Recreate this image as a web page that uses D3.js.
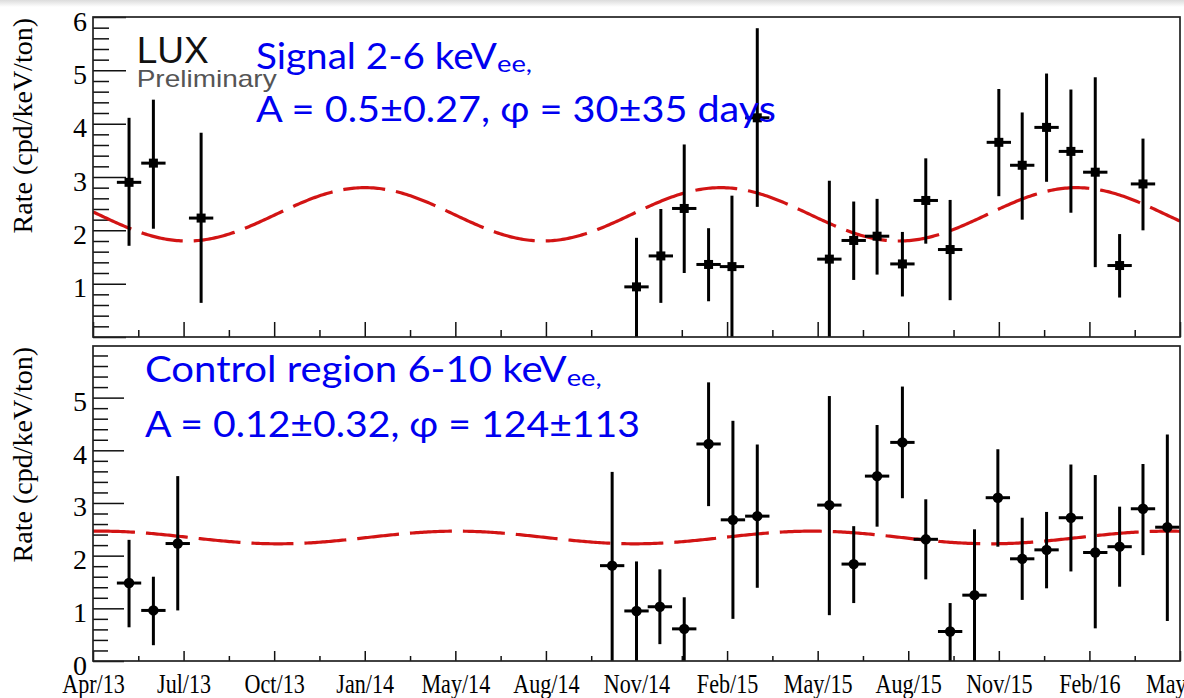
<!DOCTYPE html>
<html>
<head>
<meta charset="utf-8">
<script src="https://cdn.jsdelivr.net/npm/d3@7"></script>
<style>
  html, body { margin: 0; padding: 0; background: #fff; }
  svg { display: block; }
</style>
</head>
<body>
<svg id="chart" width="1184" height="698"></svg>
<script>
// ---- axis definition -------------------------------------------------------
const tickLabels = ["Apr/13", "Jul/13", "Oct/13", "Jan/14", "May/14", "Aug/14", "Nov/14",
                    "Feb/15", "May/15", "Aug/15", "Nov/15", "Feb/16", "May/16"];
const tickStepDays = 93;      // spacing of the labelled time ticks
const axisStartDoy = 116;     // day of year of the first tick (26 Apr 2013)
const yearDays = 365.25;
const binHalfWidthDays = 12.5;

// ---- signal region, 2-6 keVee (days since axis start) -----------------------
const signalDays  = [37, 62, 111, 558, 583, 607, 632, 656, 682, 756, 781, 805, 831, 855, 880, 930, 954, 979, 1004, 1029, 1054, 1078];
const signalRate  = [2.90, 3.26, 2.23, 0.94, 1.52, 2.41, 1.36, 1.32, 4.11, 1.46, 1.81, 1.89, 1.37, 2.56, 1.64, 3.65, 3.22, 3.93, 3.48, 3.09, 1.34, 2.87];
const signalUpper = [4.11, 4.45, 3.83, 1.86, 2.40, 3.61, 2.04, 2.65, 5.79, 2.93, 2.54, 2.59, 1.97, 3.35, 2.57, 4.65, 4.21, 4.94, 4.64, 4.87, 1.93, 3.72];
const signalLower = [1.71, 2.03, 0.64, 0.00, 0.64, 1.20, 0.67, -0.01, 2.44, -0.01, 1.07, 1.17, 0.76, 1.75, 0.69, 2.64, 2.20, 2.91, 2.33, 1.31, 0.74, 2.00];
const signalMean = 2.30, signalAmp = 0.50, signalPhase = 30;

// ---- control region, 6-10 keVee --------------------------------------------
const controlDays  = [37, 62, 87, 533, 558, 582, 607, 632, 657, 682, 756, 781, 805, 831, 855, 880, 905, 929, 954, 979, 1004, 1029, 1054, 1078, 1103];
const controlRate  = [1.48, 0.96, 2.23, 1.81, 0.95, 1.03, 0.61, 4.12, 2.68, 2.75, 2.96, 1.84, 3.51, 4.15, 2.31, 0.56, 1.25, 3.10, 1.94, 2.11, 2.72, 2.06, 2.17, 2.89, 2.54];
const controlUpper = [2.30, 1.60, 3.51, 3.59, 1.89, 1.74, 1.21, 5.29, 4.56, 4.11, 5.03, 2.56, 4.48, 5.21, 3.07, 1.10, 2.50, 4.02, 2.72, 2.83, 3.73, 3.53, 2.93, 3.74, 4.30];
const controlLower = [0.64, 0.30, 0.96, 0.00, 0.00, 0.32, 0.00, 2.94, 0.80, 1.39, 0.87, 1.10, 2.55, 3.09, 1.55, 0.00, 0.00, 2.17, 1.16, 1.38, 1.70, 0.62, 1.41, 2.01, 0.76];
const controlMean = 2.345, controlAmp = 0.12, controlPhase = 124;

// ---- layout ----------------------------------------------------------------
const W = 1184, H = 698;
const left = 93, right = 1180;
const svg = d3.select("#chart");
const defs = svg.append("defs");

// faint grey band along the top edge
const grad = defs.append("linearGradient").attr("id", "topband")
  .attr("x1", 0).attr("y1", 0).attr("x2", 0).attr("y2", 1);
grad.append("stop").attr("offset", "0%").attr("stop-color", "#dcdcdc");
grad.append("stop").attr("offset", "100%").attr("stop-color", "#ffffff");
svg.append("rect").attr("x", 0).attr("y", 0).attr("width", W).attr("height", 7).attr("fill", "url(#topband)");

const x = d3.scaleLinear().domain([0, tickStepDays * (tickLabels.length - 1)]).range([left, right]);

const serif = "'Liberation Serif', 'Times New Roman', serif";
const blueFont = "Lato, 'Noto Sans', sans-serif";

function drawPanel(p) {
  const y = d3.scaleLinear().domain([0, p.yMax]).range([p.bottom, p.top]);
  const g = svg.append("g");

  defs.append("clipPath").attr("id", p.id + "-clip")
    .append("rect").attr("x", left).attr("y", p.top)
    .attr("width", right - left).attr("height", p.bottom - p.top);

  // y axis: minor then major ticks, drawn inside the frame
  const yMinor = d3.range(0, 31).map(i => i * 0.2).filter(v => v <= p.yMax + 1e-6 && Math.abs(v - Math.round(v)) > 1e-6);
  const yMajor = d3.range(0, 7).filter(v => v <= p.yMax + 1e-6);

  const yMinorAxis = g.append("g").attr("transform", `translate(${left},0)`)
    .call(d3.axisLeft(y).tickValues(yMinor).tickSize(-p.yMinorLen).tickFormat(""));
  const yMajorAxis = g.append("g").attr("transform", `translate(${left},0)`)
    .call(d3.axisLeft(y).tickValues(yMajor).tickSize(-p.yMajorLen).tickPadding(6)
      .tickFormat(d => p.yLabels.includes(d) ? d3.format("d")(d) : ""));
  yMajorAxis.selectAll("text")
    .attr("dy", "13px")
    .style("font-family", serif).style("font-size", "28px").attr("fill", "#000");

  // x axis: ticks at the labelled positions and halfway between them
  const xMajor = d3.range(tickLabels.length).map(k => k * tickStepDays);
  const xMinor = d3.range(tickLabels.length - 1).map(k => (k + 0.5) * tickStepDays);
  const xMinorAxis = g.append("g").attr("transform", `translate(0,${p.bottom})`)
    .call(d3.axisBottom(x).tickValues(xMinor).tickSize(-p.xMinorLen).tickFormat(""));
  const xMajorAxis = g.append("g").attr("transform", `translate(0,${p.bottom})`)
    .call(d3.axisBottom(x).tickValues(xMajor).tickSize(-p.xMajorLen).tickPadding(13)
      .tickFormat((d, i) => p.showXLabels ? tickLabels[i] : ""));
  xMajorAxis.selectAll("text")
    .attr("transform", "scale(0.82,1)")
    .style("font-family", serif).style("font-size", "27px").attr("fill", "#000");

  [yMinorAxis, yMajorAxis, xMinorAxis, xMajorAxis].forEach(a => {
    a.select(".domain").remove();
    a.selectAll(".tick line").attr("stroke", "#111").attr("stroke-width", 1.5);
  });

  // y axis title
  svg.append("text")
    .attr("transform", `translate(32,${p.top + 1}) rotate(-90)`)
    .attr("text-anchor", "end")
    .style("font-family", serif).style("font-size", "28px").attr("fill", "#000")
    .text("Rate (cpd/keV/ton)");

  const plot = g.append("g").attr("clip-path", `url(#${p.id}-clip)`);

  // fitted annual modulation
  const fit = d => p.mean + p.amp * Math.cos(2 * Math.PI * (d + axisStartDoy - p.phase) / yearDays);
  const days = d3.range(0, x.domain()[1] + 1, 2);
  plot.append("path")
    .datum(days)
    .attr("d", d3.line().x(d => x(d)).y(d => y(fit(d))).curve(d3.curveLinear))
    .attr("fill", "none").attr("stroke", "#d21414").attr("stroke-width", 3.2)
    .attr("stroke-dasharray", "42,11");

  // data points with error bars
  const pts = p.days.map((d, i) => ({ d, r: p.rate[i], hi: p.upper[i], lo: p.lower[i] }));
  const pg = plot.selectAll("g.pt").data(pts).join("g").attr("class", "pt");
  pg.append("line")
    .attr("x1", v => x(v.d)).attr("x2", v => x(v.d))
    .attr("y1", v => y(v.hi)).attr("y2", v => y(v.lo))
    .attr("stroke", "#000").attr("stroke-width", 3);
  pg.append("line")
    .attr("x1", v => x(v.d - binHalfWidthDays)).attr("x2", v => x(v.d + binHalfWidthDays))
    .attr("y1", v => y(v.r)).attr("y2", v => y(v.r))
    .attr("stroke", "#000").attr("stroke-width", 3);
  if (p.marker === "square") {
    pg.append("rect")
      .attr("x", v => x(v.d) - 4.5).attr("y", v => y(v.r) - 4.5)
      .attr("width", 9).attr("height", 9).attr("fill", "#000");
  } else {
    pg.append("circle")
      .attr("cx", v => x(v.d)).attr("cy", v => y(v.r)).attr("r", 5.2).attr("fill", "#000");
  }

  // frame
  g.append("rect")
    .attr("x", left).attr("y", p.top).attr("width", right - left).attr("height", p.bottom - p.top)
    .attr("fill", "none").attr("stroke", "#222").attr("stroke-width", 1.7);

  // annotation
  p.lines.forEach(l => {
    svg.append("text")
      .attr("x", l.x).attr("y", l.y)
      .attr("textLength", l.len).attr("lengthAdjust", "spacingAndGlyphs")
      .style("font-family", blueFont).style("font-size", l.size + "px").attr("fill", "#0000f0")
      .text(l.text);
  });
}

drawPanel({
  id: "signal", top: 17, bottom: 337, yMax: 6,
  yLabels: [1, 2, 3, 4, 5, 6], showXLabels: false,
  yMajorLen: 33, yMinorLen: 16, xMajorLen: 15, xMinorLen: 7,
  days: signalDays, rate: signalRate, upper: signalUpper, lower: signalLower,
  mean: signalMean, amp: signalAmp, phase: signalPhase, marker: "square",
  lines: [
    { text: "Signal 2-6 keV", x: 256, y: 68.5, len: 241, size: 37 },
    { text: "ee,", x: 497, y: 72, len: 35, size: 23 },
    { text: "A = 0.5±0.27, φ = 30±35 days", x: 256, y: 121.7, len: 520, size: 37 }
  ]
});

drawPanel({
  id: "control", top: 346, bottom: 661, yMax: 5.98,
  yLabels: [0, 1, 2, 3, 4, 5], showXLabels: true,
  yMajorLen: 31, yMinorLen: 15, xMajorLen: 10, xMinorLen: 5,
  days: controlDays, rate: controlRate, upper: controlUpper, lower: controlLower,
  mean: controlMean, amp: controlAmp, phase: controlPhase, marker: "circle",
  lines: [
    { text: "Control region 6-10 keV", x: 145, y: 382.3, len: 421.7, size: 36.5 },
    { text: "ee,", x: 566.7, y: 386, len: 35, size: 23 },
    { text: "A = 0.12±0.32, φ = 124±113", x: 145, y: 436.7, len: 495, size: 36.5 }
  ]
});

// experiment tag
svg.append("text").attr("x", 136.7).attr("y", 63.3)
  .style("font-family", "'Liberation Sans', Arial, sans-serif").style("font-size", "37px")
  .attr("fill", "#111").text("LUX");
svg.append("text").attr("x", 136.7).attr("y", 86.7)
  .attr("textLength", 140).attr("lengthAdjust", "spacingAndGlyphs")
  .style("font-family", "'Liberation Sans', Arial, sans-serif").style("font-size", "24px")
  .attr("fill", "#555").text("Preliminary");
</script>
</body>
</html>
